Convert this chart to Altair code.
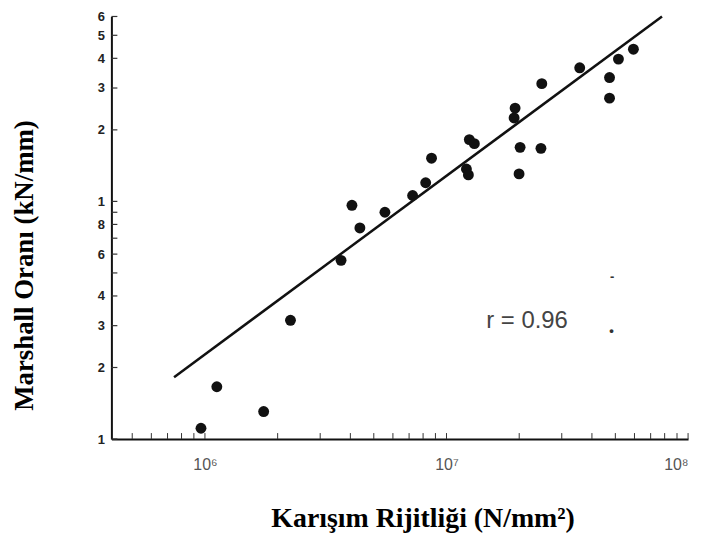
import altair as alt
import pandas as pd

# Data (log-log)
stiffness = [0.963e6, 1.12e6, 1.75e6, 2.26e6, 3.66e6, 4.06e6, 4.38e6, 5.56e6, 7.24e6, 8.2e6,
             8.67e6, 1.243e7, 1.304e7, 1.209e7, 1.232e7, 1.923e7, 1.905e7, 2.017e7, 1.997e7,
             2.46e7, 2.48e7, 3.56e7, 4.73e7, 4.73e7, 5.15e7, 5.94e7]
marshall = [0.111, 0.166, 0.1305, 0.316, 0.565, 0.963, 0.773, 0.90, 1.059, 1.198,
            1.52, 1.82, 1.75, 1.369, 1.293, 2.47, 2.245, 1.688, 1.305,
            1.672, 3.13, 3.65, 3.32, 2.72, 3.97, 4.37]

fit_x = [7.45e5, 7.8e7]
fit_y = [0.182, 6.0]

x_label_values = [1e6, 1e7, 1e8]
y_label_values = [0.1, 0.2, 0.3, 0.4, 0.6, 0.8, 1, 2, 3, 4, 5, 6]
x_minor = [5e5, 6e5, 7e5, 8e5, 9e5,
           1e6, 2e6, 3e6, 4e6, 5e6, 6e6, 7e6, 8e6, 9e6,
           1e7, 2e7, 3e7, 4e7, 5e7, 6e7, 7e7, 8e7, 9e7, 1e8]
y_minor = [0.1, 0.2, 0.3, 0.4, 0.5, 0.6, 0.7, 0.8, 0.9, 1, 2, 3, 4, 5, 6]

note_x = [2.155e7]
note_y = [0.313]
note_text = ["r = 0.96"]

spot_x = [4.85e7, 4.82e7]
spot_y = [0.481, 0.285]
spot_text = ["-", "•"]

pts = pd.DataFrame({"x": stiffness, "y": marshall})
fit = pd.DataFrame({"x": fit_x, "y": fit_y})
xt = pd.DataFrame({"x": x_minor})
yt = pd.DataFrame({"y": y_minor})
note = pd.DataFrame({"x": note_x, "y": note_y, "t": note_text})
spots = pd.DataFrame({"x": spot_x, "y": spot_y, "t": spot_text})

xscale = alt.Scale(type="log", domain=[4.1e5, 1e8], nice=False)
yscale = alt.Scale(type="log", domain=[0.1, 6], nice=False)

xaxis = alt.Axis(
    values=x_label_values,
    labelExpr="'10' + (datum.value < 5e6 ? '⁶' : (datum.value < 5e7 ? '⁷' : '⁸'))",
    ticks=False, grid=False, domainColor="#111", domainWidth=2,
    labelPadding=18, labelFontSize=16, labelColor="#555", labelFont="Liberation Sans",
    title="Karışım Rijitliği (N/mm²)", titleFont="Liberation Serif", titleFontSize=28,
    titleFontWeight="bold", titleColor="#000", titleX=313, titleY=80,
    titleBaseline="middle", titleAnchor="middle", titleAlign="center",
)
yaxis = alt.Axis(
    values=y_label_values,
    labelExpr="'' + round(datum.value < 0.95 ? datum.value * 10 : datum.value)",
    ticks=False, grid=False, domainColor="#111", domainWidth=2,
    labelPadding=7, labelFontSize=13, labelFontWeight="bold", labelColor="#222",
    labelFont="Liberation Sans",
    title="Marshall Oranı (kN/mm)", titleFont="Liberation Serif", titleFontSize=27,
    titleFontWeight="bold", titleColor="#000", titleX=-87, titleY=250,
    titleBaseline="middle", titleAnchor="middle", titleAlign="center",
)

X = alt.X("x:Q", scale=xscale, axis=xaxis)
Y = alt.Y("y:Q", scale=yscale, axis=yaxis)

points = alt.Chart(pts).mark_circle(size=120, color="#111", opacity=1).encode(x=X, y=Y)
line = alt.Chart(fit).mark_line(color="#111", strokeWidth=2.5).encode(x=X, y=Y)
xticks = alt.Chart(xt).mark_rule(color="#333", strokeWidth=1).encode(
    x=X, y=alt.value(425), y2=alt.value(419))
yticks = alt.Chart(yt).mark_rule(color="#333", strokeWidth=1.2).encode(
    y=Y, x=alt.value(0), x2=alt.value(6))
label = alt.Chart(note).mark_text(fontSize=24, color="#444", font="Liberation Sans").encode(
    x=X, y=Y, text="t:N")
spot = alt.Chart(spots).mark_text(fontSize=13, fontWeight="bold", color="#333").encode(
    x=X, y=Y, text="t:N")

chart = alt.layer(points, line, xticks, yticks, label, spot).properties(
    width=580, height=425,
    autosize=alt.AutoSizeParams(type="none"),
    padding={"left": 104, "top": 7, "right": 11, "bottom": 97},
).configure_view(stroke=None)

chart.save("out.html", embed_options={"renderer": "svg", "actions": False})
